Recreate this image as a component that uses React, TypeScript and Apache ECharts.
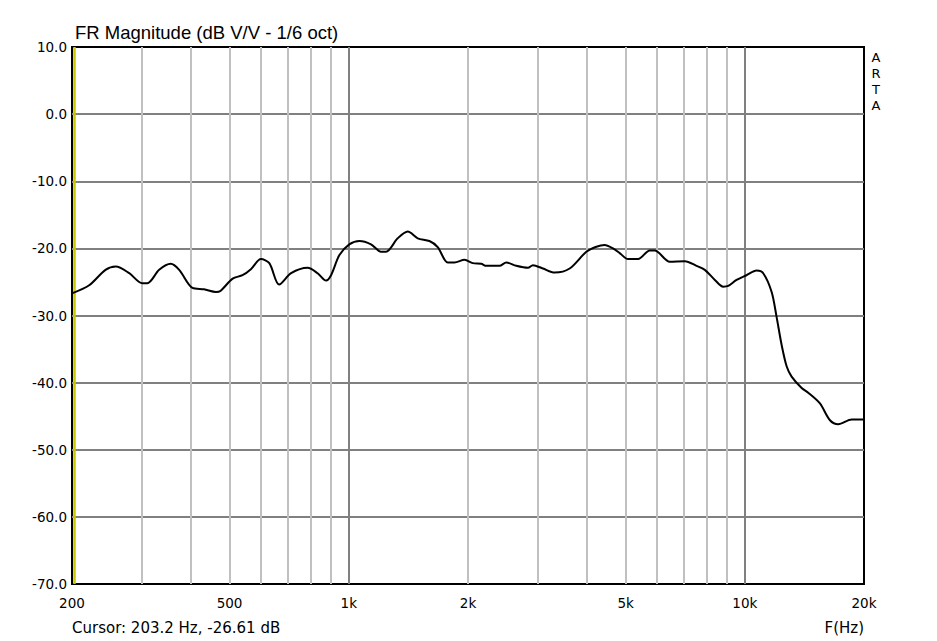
import React, { useEffect, useRef } from "react";
import * as echarts from "echarts";

// Frequency (Hz) and magnitude (dB)
const freqs = [200, 221, 243, 258, 279, 301, 310, 332, 355, 373, 403, 431, 462, 475, 509, 539, 566, 600, 630, 667, 715, 787, 834, 876, 902, 947, 1003, 1064, 1138, 1206, 1242, 1329, 1409, 1493, 1598, 1677, 1778, 1849, 1960, 2056, 2160, 2224, 2402, 2499, 2648, 2834, 2917, 3092, 3310, 3612, 3980, 4220, 4426, 4646, 4832, 5070, 5377, 5755, 5924, 6466, 7056, 7551, 7926, 8402, 8820, 9080, 9532, 10100, 10710, 11130, 11690, 12030, 12390, 12760, 13130, 13920, 14460, 15480, 16410, 17220, 18620, 20000];
const magnitudes = [-26.7, -25.5, -23.2, -22.7, -23.7, -25.2, -25.2, -23.2, -22.3, -23.2, -25.9, -26.1, -26.5, -26.3, -24.5, -24.0, -23.1, -21.6, -22.2, -25.4, -23.7, -22.9, -23.7, -24.8, -24.0, -21.0, -19.4, -18.9, -19.4, -20.5, -20.5, -18.5, -17.5, -18.5, -18.9, -19.8, -22.1, -22.1, -21.7, -22.2, -22.3, -22.6, -22.6, -22.1, -22.6, -22.9, -22.5, -23.0, -23.6, -23.0, -20.5, -19.75, -19.5, -20.0, -20.7, -21.6, -21.6, -20.3, -20.3, -22.0, -21.9, -22.6, -23.2, -24.7, -25.7, -25.6, -24.7, -24.0, -23.3, -23.7, -26.5, -30.2, -34.4, -37.6, -39.1, -40.8, -41.5, -43.1, -45.6, -46.2, -45.5, -45.5];

const xLabelValues = [200, 500, 1000, 2000, 5000, 10000, 20000];
const minorGridFreqs = [300, 400, 500, 600, 700, 800, 900, 2000, 3000, 4000, 5000, 6000, 7000, 8000, 9000];
const majorGridFreqs = [1000, 10000];
const cursorFreq = 203.2;
const cursorDb = -26.61;

const FONT = "'Liberation Sans', Arial, sans-serif";
const SMALL = "'DejaVu Sans', Verdana, sans-serif";

export default function App() {
  const ref = useRef<HTMLDivElement>(null);
  useEffect(() => {
    if (!ref.current) return;
    const chart = echarts.init(ref.current, undefined, { renderer: "svg" });
    const gridLines: any[] = [
      ...minorGridFreqs.map((f) => ({ xAxis: f, lineStyle: { color: "#c0c0c0", width: 2, type: "solid" } })),
      ...majorGridFreqs.map((f) => ({ xAxis: f, lineStyle: { color: "#808080", width: 2, type: "solid" } })),
      { xAxis: cursorFreq, lineStyle: { color: "#c8c800", width: 2.5, type: "solid" } },
    ];
    chart.setOption({
      animation: false,
      backgroundColor: "#fff",
      grid: {
        show: true,
        left: 72,
        top: 47,
        width: 792,
        height: 537,
        borderColor: "#000",
        borderWidth: 2,
        backgroundColor: "#fff",
        z: 0,
      },
      xAxis: {
        type: "log",
        logBase: 10,
        min: 200,
        max: 20000,
        axisLine: { show: false },
        axisTick: { show: false },
        splitLine: { show: false },
        axisLabel: {
          customValues: xLabelValues,
          showMinLabel: true,
          showMaxLabel: true,
          margin: 12,
          fontSize: 13.5,
          fontFamily: SMALL,
          color: "#000",
          formatter: (v: number) => {
            const r = Math.round(v);
            return r >= 1000 ? r / 1000 + "k" : String(r);
          },
        },
      },
      yAxis: {
        type: "value",
        min: -70,
        max: 10,
        interval: 10,
        axisLine: { show: false },
        axisTick: { show: false },
        splitLine: { show: true, showMinLine: false, showMaxLine: false, lineStyle: { color: "#808080", width: 2 } },
        axisLabel: {
          margin: 5,
          fontSize: 13.5,
          fontFamily: SMALL,
          color: "#000",
          formatter: (v: number) => v.toFixed(1),
        },
      },
      series: [
        {
          type: "line",
          name: "grid",
          data: [],
          z: 1,
          silent: true,
          markLine: {
            silent: true,
            symbol: ["none", "none"],
            label: { show: false },
            data: gridLines,
          },
        },
        {
          type: "line",
          name: "FR",
          z: 5,
          data: freqs.map((f, i) => [f, magnitudes[i]]),
          showSymbol: false,
          smooth: 0.3,
          lineStyle: { color: "#000", width: 2 },
          itemStyle: { color: "#000" },
        },
      ],
      graphic: [
        {
          type: "text",
          x: 75,
          y: 32,
          style: { text: "FR Magnitude (dB V/V - 1/6 oct)", font: `18.5px ${FONT}`, fill: "#000", textVerticalAlign: "middle" },
        },
        ...["A", "R", "T", "A"].map((ch, i) => ({
          type: "text",
          x: 876,
          y: 57 + i * 16,
          style: { text: ch, font: `13px ${SMALL}`, fill: "#000", textAlign: "center", textVerticalAlign: "middle" },
        })),
        {
          type: "text",
          x: 72,
          y: 628,
          style: {
            text: `Cursor: ${cursorFreq} Hz, ${cursorDb} dB`,
            font: `15px ${SMALL}`,
            fill: "#000",
            textVerticalAlign: "middle",
          },
        },
        {
          type: "text",
          x: 864,
          y: 628,
          style: { text: "F(Hz)", font: `15px ${SMALL}`, fill: "#000", textAlign: "right", textVerticalAlign: "middle" },
        },
      ],
    });
    return () => chart.dispose();
  }, []);
  return <div ref={ref} style={{ position: "fixed", left: 0, top: 0, width: 937, height: 641 }} />;
}
